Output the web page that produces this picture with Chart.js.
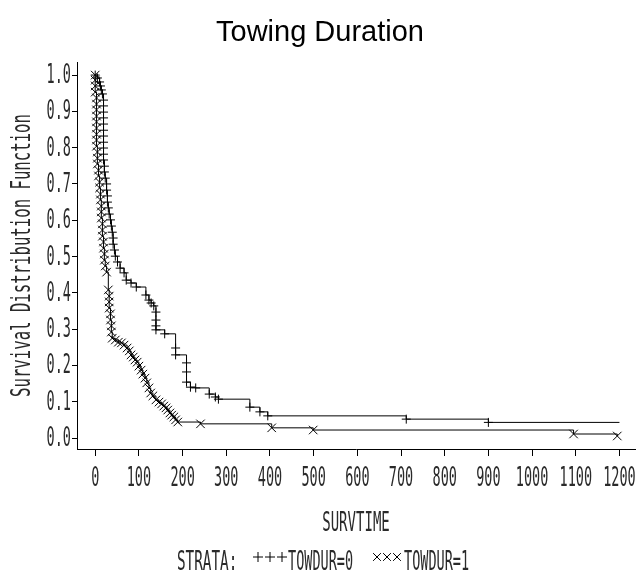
<!DOCTYPE html>
<html>
<head>
<meta charset="utf-8">
<title>Towing Duration</title>
<script src="https://cdn.jsdelivr.net/npm/chart.js@4/dist/chart.umd.min.js"></script>
<style>
  html, body { margin: 0; padding: 0; background: #fff; }
  #chart { display: block; }
</style>
</head>
<body>
<canvas id="chart" width="642" height="578"></canvas>
<script>
// survival estimates
var towdur0Time = [0, 5, 10, 12, 14, 16.5, 19, 19, 19, 19, 19, 19, 19, 19, 19, 19, 19, 21, 21, 23, 26, 26, 28, 28, 30, 32, 35, 37, 39, 41, 41, 44, 46, 51, 57, 66, 71, 82, 94, 116, 123, 128, 134, 139, 139, 139, 139, 159, 184, 184, 209, 209, 209, 218, 230, 261, 275, 282, 354, 377, 395, 712, 900, 1200];
var towdur0Surv = [1.0, 0.992, 0.981, 0.970, 0.959, 0.948, 0.931, 0.915, 0.898, 0.882, 0.865, 0.848, 0.832, 0.815, 0.799, 0.782, 0.766, 0.749, 0.733, 0.716, 0.700, 0.683, 0.667, 0.650, 0.634, 0.617, 0.601, 0.584, 0.567, 0.551, 0.534, 0.518, 0.501, 0.485, 0.468, 0.455, 0.435, 0.427, 0.416, 0.394, 0.380, 0.372, 0.364, 0.347, 0.325, 0.309, 0.298, 0.287, 0.248, 0.229, 0.207, 0.182, 0.154, 0.140, 0.138, 0.121, 0.113, 0.107, 0.085, 0.072, 0.061, 0.052, 0.043, 0.043];

var towdur1Time = [0, 0, 0, 0, 3, 3, 3, 3, 3, 3, 3, 3, 3, 5, 5, 5, 7.5, 7.5, 10, 10, 12, 12, 14, 14, 14, 16.5, 16.5, 16.5, 19, 19, 21, 21, 23, 26, 30, 32, 32, 32, 35, 35, 37, 37, 39, 46, 53, 60, 66, 73, 78, 82, 87, 91, 96, 100, 105, 109, 114, 118, 123, 127, 132, 139, 146, 152, 157, 162, 166, 171, 175, 180, 184, 189, 241, 404, 499, 1095, 1195];
var towdur1Surv = [1.0, 0.986, 0.970, 0.953, 0.937, 0.920, 0.904, 0.887, 0.871, 0.854, 0.837, 0.821, 0.804, 0.788, 0.771, 0.755, 0.738, 0.722, 0.705, 0.689, 0.672, 0.656, 0.639, 0.623, 0.606, 0.590, 0.573, 0.556, 0.540, 0.523, 0.507, 0.490, 0.474, 0.457, 0.408, 0.391, 0.375, 0.358, 0.342, 0.325, 0.309, 0.292, 0.275, 0.270, 0.264, 0.262, 0.256, 0.248, 0.240, 0.229, 0.223, 0.215, 0.209, 0.198, 0.187, 0.176, 0.165, 0.152, 0.138, 0.124, 0.116, 0.105, 0.099, 0.094, 0.088, 0.083, 0.077, 0.069, 0.063, 0.058, 0.050, 0.044, 0.039, 0.028, 0.022, 0.011, 0.0055];

var xTicks = [0, 100, 200, 300, 400, 500, 600, 700, 800, 900, 1000, 1100, 1200];
var yTicks = [0.0, 0.1, 0.2, 0.3, 0.4, 0.5, 0.6, 0.7, 0.8, 0.9, 1.0];

var titleText = 'Towing Duration';
var xTitle = 'SURVTIME';
var yTitle = 'Survival Distribution Function';
var strataLabel = 'STRATA:';
var seriesNames = ['TOWDUR=0', 'TOWDUR=1'];

function toPoints(xs, ys) {
  var pts = [];
  for (var i = 0; i < xs.length; i++) pts.push({x: xs[i], y: ys[i]});
  return pts;
}

var MONO = '"DejaVu Sans Mono", "Liberation Mono", monospace';

// SAS style tall narrow lettering
function narrowText(ctx, text, x, y, size, sx, align, rotate) {
  ctx.save();
  ctx.translate(x, y);
  if (rotate) ctx.rotate(rotate);
  ctx.scale(sx, 1);
  ctx.font = size + 'px ' + MONO;
  ctx.textAlign = align;
  ctx.textBaseline = 'middle';
  ctx.fillStyle = '#2a2a2a';
  ctx.fillText(text, 0, 0);
  ctx.restore();
}

var sasText = {
  id: 'sasText',
  afterDraw: function(chart) {
    var ctx = chart.ctx;
    var xs = chart.scales.x, ys = chart.scales.y;
    var area = chart.chartArea;

    ctx.save();
    ctx.font = '29px "Liberation Sans", Arial, sans-serif';
    ctx.fillStyle = '#000';
    ctx.textAlign = 'center';
    ctx.textBaseline = 'alphabetic';
    ctx.fillText(titleText, 320, 41);
    ctx.restore();

    ys.ticks.forEach(function(t) {
      narrowText(ctx, t.value.toFixed(1), 71, ys.getPixelForValue(t.value) + 1, 27, 0.5, 'right');
    });
    xs.ticks.forEach(function(t) {
      narrowText(ctx, String(t.value), xs.getPixelForValue(t.value), 479, 27, 0.5, 'center');
    });

    narrowText(ctx, xTitle, (area.left + area.right) / 2, 524, 27, 0.52, 'center');
    narrowText(ctx, yTitle, 23, (area.top + area.bottom) / 2, 27, 0.58, 'center', -Math.PI / 2);

    // legend row
    narrowText(ctx, strataLabel, 177, 563, 27, 0.53, 'left');
    ctx.save();
    ctx.strokeStyle = '#000';
    ctx.lineWidth = 1;
    [258, 270, 282].forEach(function(cx) {
      Chart.helpers.drawPoint(ctx, {pointStyle: 'cross', radius: 5, borderWidth: 1, rotation: 0}, cx, 557);
    });
    [377, 387, 397].forEach(function(cx) {
      Chart.helpers.drawPoint(ctx, {pointStyle: 'crossRot', radius: 5.5, borderWidth: 1, rotation: 0}, cx, 557);
    });
    ctx.restore();
    narrowText(ctx, seriesNames[0], 288, 563, 27, 0.5, 'left');
    narrowText(ctx, seriesNames[1], 404, 563, 27, 0.5, 'left');
  }
};

var last0 = towdur0Time.length - 1;

new Chart(document.getElementById('chart'), {
  type: 'line',
  data: {
    datasets: [{
      label: seriesNames[0],
      data: toPoints(towdur0Time, towdur0Surv),
      stepped: true,
      borderColor: '#000',
      borderWidth: 1,
      fill: false,
      pointStyle: 'cross',
      pointRadius: function(c) { return c.dataIndex === last0 ? 0 : 4.5; },
      pointBorderColor: '#000',
      pointBorderWidth: 1
    }, {
      label: seriesNames[1],
      data: toPoints(towdur1Time, towdur1Surv),
      stepped: true,
      borderColor: '#000',
      borderWidth: 1,
      fill: false,
      pointStyle: 'crossRot',
      pointRadius: 6,
      pointBorderColor: '#000',
      pointBorderWidth: 1
    }]
  },
  options: {
    responsive: false,
    animation: false,
    devicePixelRatio: 1,
    layout: { padding: { left: 72, top: 62, right: 1, bottom: 122 } },
    plugins: {
      legend: { display: false },
      tooltip: { enabled: false },
      title: { display: false }
    },
    scales: {
      x: {
        type: 'linear',
        min: -41.7,
        max: 1235.6,
        afterBuildTicks: function(scale) {
          scale.ticks = xTicks.map(function(v) { return {value: v}; });
        },
        ticks: { display: false },
        grid: { drawOnChartArea: false, drawTicks: true, tickLength: 7, color: '#000', lineWidth: 1 },
        border: { display: true, color: '#000', width: 1 }
      },
      y: {
        type: 'linear',
        min: -0.0303,
        max: 1.036,
        afterBuildTicks: function(scale) {
          scale.ticks = yTicks.map(function(v) { return {value: v}; });
        },
        ticks: { display: false },
        grid: { drawOnChartArea: false, drawTicks: true, tickLength: 5, color: '#000', lineWidth: 1 },
        border: { display: true, color: '#000', width: 1 }
      }
    }
  },
  plugins: [sasText]
});
</script>
</body>
</html>
